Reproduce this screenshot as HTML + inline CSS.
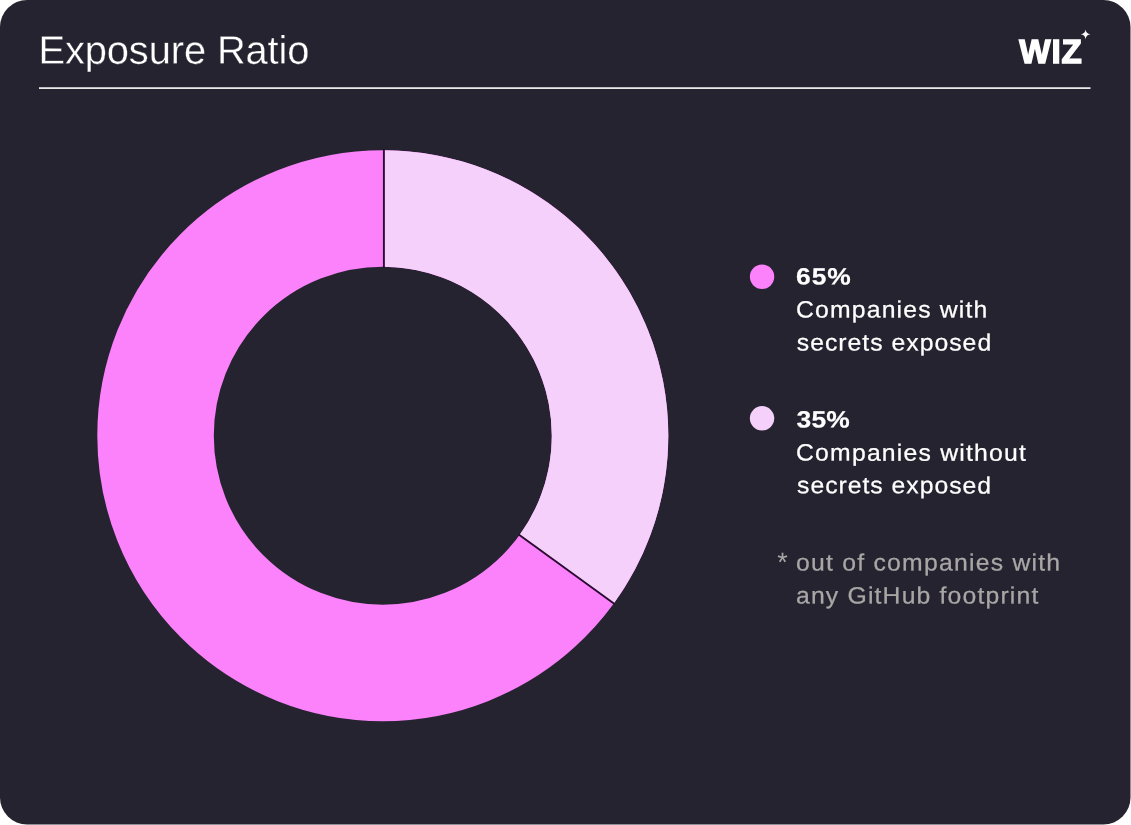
<!DOCTYPE html>
<html lang="en">
<head>
<meta charset="utf-8">
<title>Exposure Ratio</title>
<style>
  html, body { margin: 0; padding: 0; background: #ffffff; }
  body { width: 1131px; height: 825px; overflow: hidden; position: relative;
         font-family: "Liberation Sans", sans-serif; }
  .card { position: absolute; left: 0; top: 0; width: 1131px; height: 825px; overflow: hidden; }
  .logo { position: absolute; left: 1010px; top: 22px; width: 90px; height: 50px; overflow: visible; }
  .chart { position: absolute; left: 0; top: 0; width: 1131px; height: 825px; }
</style>
</head>
<body>
<div class="card">
  <svg class="chart" viewBox="0 0 1131 825">
    <rect x="0" y="0" width="1130.5" height="824.5" rx="27" ry="27" fill="#25232f"/>
    <rect x="39" y="87.3" width="1051.5" height="1.6" fill="#ffffff"/>
    <circle cx="382.80" cy="435.70" r="227.25" fill="none" stroke="#fb82fb" stroke-width="116.50"/>
    <path d="M383.50 150.20 A285.50 285.50 0 0 1 613.77 603.51 L519.52 535.04 A169.00 169.00 0 0 0 383.50 266.70 Z" fill="#f5d0fb"/>
    <line x1="383.90" y1="149.20" x2="383.90" y2="267.70" stroke="#2a0a30" stroke-width="1.9"/>
    <line x1="518.71" y1="534.45" x2="614.58" y2="604.10" stroke="#2a0a30" stroke-width="1.9"/>
  </svg>
  <svg class="logo" viewBox="0 0 90 50">
    <g font-family="Liberation Sans, sans-serif" font-weight="700" font-size="32.5" fill="#ffffff" stroke="#ffffff" stroke-width="1.4" stroke-linejoin="miter">
      <text transform="translate(0 41.1) scale(1.020 1.045)" x="9.02 40.64 50.49" y="0">WIZ</text>
    </g>
    <path d="M75.6 7.4 C76 10.4 77.3 11.7 80.5 12.3 C77.3 12.9 76 14.2 75.6 17.2 C75.2 14.2 73.9 12.9 70.7 12.3 C73.9 11.7 75.2 10.4 75.6 7.4 Z" fill="#ffffff"/>
  </svg>
  <svg class="chart" viewBox="0 0 1131 825" font-family="Liberation Sans, sans-serif">
    <circle cx="762.05" cy="276.75" r="12.2" fill="#fb82fb"/>
    <circle cx="762.05" cy="418.3" r="12.2" fill="#f5d0fb"/>
    <text id="title" transform="translate(38.50 63.70) scale(1.0000 1) skewY(0.03)" font-size="39.8" font-weight="400" fill="#ffffff" letter-spacing="-0.085" stroke="#25232f" stroke-width="0.35">Exposure Ratio</text>
    <text id="p65" transform="translate(796.10 284.50) scale(1.1200 1) skewY(0.03)" font-size="23.6" font-weight="700" fill="#ffffff" letter-spacing="0.804" stroke="#ffffff" stroke-width="0.2">65%</text>
    <text id="cw" transform="translate(796.00 317.50) scale(1.0500 1) skewY(0.03)" font-size="23.6" font-weight="400" fill="#ffffff" letter-spacing="1.106" stroke="#ffffff" stroke-width="0.25">Companies with</text>
    <text id="se1" transform="translate(796.80 350.50) scale(1.0500 1) skewY(0.03)" font-size="23.6" font-weight="400" fill="#ffffff" letter-spacing="0.952" stroke="#ffffff" stroke-width="0.25">secrets exposed</text>
    <text id="p35" transform="translate(796.50 427.50) scale(1.1200 1) skewY(0.03)" font-size="23.6" font-weight="700" fill="#ffffff" letter-spacing="0.201" stroke="#ffffff" stroke-width="0.2">35%</text>
    <text id="cwo" transform="translate(796.00 460.60) scale(1.0500 1) skewY(0.03)" font-size="23.6" font-weight="400" fill="#ffffff" letter-spacing="1.146" stroke="#ffffff" stroke-width="0.25">Companies without</text>
    <text id="se2" transform="translate(797.10 493.30) scale(1.0500 1) skewY(0.03)" font-size="23.6" font-weight="400" fill="#ffffff" letter-spacing="0.922" stroke="#ffffff" stroke-width="0.25">secrets exposed</text>
    <text id="ast" transform="translate(777.30 571.30) scale(1.0000 1) skewY(0.03)" font-size="27" font-weight="400" fill="#a9a7a6" letter-spacing="0.000">*</text>
    <text id="n1" transform="translate(796.00 570.50) scale(1.0500 1) skewY(0.03)" font-size="23.6" font-weight="400" fill="#a9a7a6" letter-spacing="1.169" stroke="#a9a7a6" stroke-width="0.25">out of companies with</text>
    <text id="n2" transform="translate(796.00 603.50) scale(1.0500 1) skewY(0.03)" font-size="23.6" font-weight="400" fill="#a9a7a6" letter-spacing="1.105" stroke="#a9a7a6" stroke-width="0.25">any GitHub footprint</text>
  </svg>
</div>
</body>
</html>
